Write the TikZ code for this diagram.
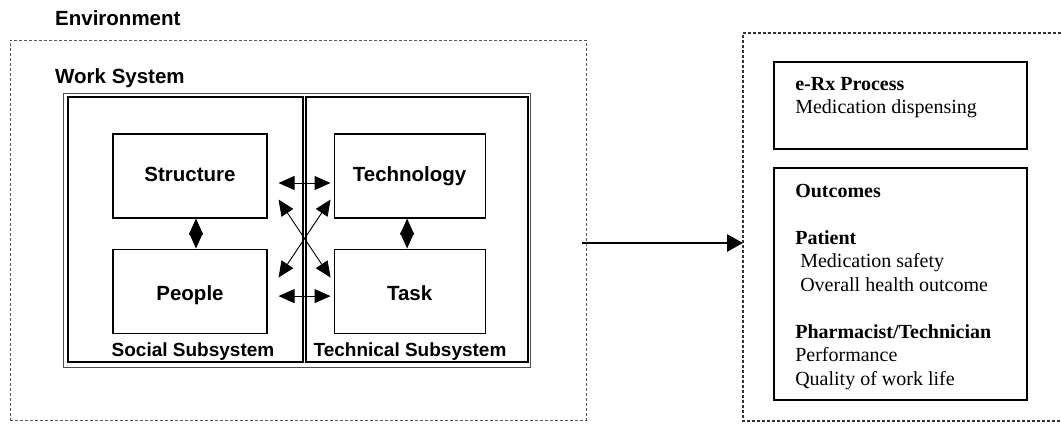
\documentclass[tikz,border=0pt]{standalone}
\usepackage{fontspec}
\setmainfont{Liberation Serif}
\setsansfont{Liberation Sans}
\usetikzlibrary{arrows.meta,positioning}

\begin{document}
\begin{tikzpicture}[x=1pt,y=-1pt,
	lbl/.style={font=\sffamily\bfseries\fontsize{20.5}{22}\selectfont, inner sep=0pt},
	sublbl/.style={lbl, font=\sffamily\bfseries\fontsize{19}{22}\selectfont},
	elem/.style={draw, line width=1.1pt, minimum width=154pt, minimum height=84pt, inner sep=0pt,
		text height=14pt, text depth=4pt, font=\sffamily\bfseries\fontsize{20.5}{22}\selectfont},
	low/.style={text height=20pt, text depth=2pt},
	envline/.style={draw, gray!70!black, dashed, dash pattern=on 3pt off 2pt, line width=0.9pt},
	dbl/.style={{Triangle[length=16pt,width=14pt]}-{Triangle[length=16pt,width=14pt]}, line width=0.9pt},
	frame/.style={draw, line width=1.8pt, inner sep=0pt},
	txt/.style={font=\fontsize{20}{23.5}\selectfont, inner sep=0pt}]
	\useasboundingbox (0,0) rectangle (1061,424);
	% environment
	\node[envline, minimum width=576pt, minimum height=380pt, inner sep=0pt] (env) at (298,230) {};
	\node[lbl, anchor=base west] (envlbl) at (55,25) {Environment};
	% work system
	\node[lbl, anchor=base west] (wslbl) at (55,83) {Work System};
	\draw[gray!60!black, line width=0.8pt] (63,93) rectangle (530,367);
	\draw[line width=1.1pt] (68,97) rectangle (303,362);
	\draw[line width=1.1pt] (306,97) rectangle (528,362);
	\node[sublbl, anchor=base] (social) at (193,356) {Social Subsystem};
	\node[sublbl, anchor=base] (technical) at (410,356) {Technical Subsystem};
	\node[elem] (structure) at (190,176) {Structure};
	\node[elem, low, below=30pt of structure] (people) {People};
	\node[elem, minimum width=151pt, right=66pt of structure] (technology) {Technology};
	\node[elem, low, minimum width=151pt, below=30pt of technology] (task) {Task};
	\draw[dbl] ([shift={(11,7)}]structure.east) -- ([shift={(-3,7)}]technology.west);
	\draw[dbl] ([shift={(11,5)}]people.east) -- ([shift={(-3,5)}]task.west);
	\draw[dbl] ([xshift=6pt]structure.south) -- ([xshift=6pt]people.north);
	\draw[dbl] ([xshift=-2.5pt]technology.south) -- ([xshift=-2.5pt]task.north);
	\draw[dbl] ([shift={(11,-19)}]structure.south east) -- ([shift={(-3,29)}]task.north west);
	\draw[dbl] ([shift={(-3,-19)}]technology.south west) -- ([shift={(11,29)}]people.north east);
	% e-Rx side
	\draw[envline, gray!40!black, line width=1.2pt] (1061,33) -| (743,421) -- (1061,421);
	\coordinate (rbox) at (743,243);
	\draw[-{Triangle[length=16pt,width=17pt]}, line width=2.8pt] ([shift={(-4,13)}]env.east) -- (rbox);
	\node[frame, minimum width=253pt, minimum height=87pt] (erx) at (900.5,105.5) {};
	\node[frame, minimum width=253pt, minimum height=232pt] (outc) at (900.5,284) {};
	\node[txt, anchor=base west] (erxtxt) at ([shift={(22,29)}]erx.north west)
		{\begin{tabular}[t]{@{}l@{}}\textbf{e-Rx Process}\\Medication dispensing\end{tabular}};
	\node[txt, anchor=base west] (outctxt) at ([shift={(22,30)}]outc.north west)
		{\begin{tabular}[t]{@{}l@{}}\textbf{Outcomes}\\ \\ \textbf{Patient}\\
		\hspace{5pt}Medication safety\\ \hspace{5pt}Overall health outcome\\ \\
		\textbf{Pharmacist/Technician}\\Performance\\Quality of work life\end{tabular}};
\end{tikzpicture}
\end{document}
